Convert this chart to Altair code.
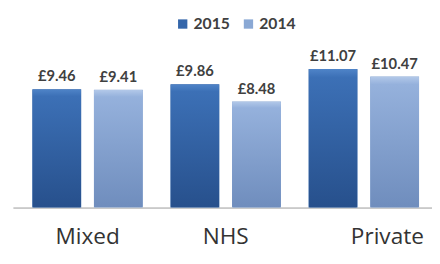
import altair as alt
import pandas as pd

categories = ["Mixed", "NHS", "Private"]
years = ["2015", "2014"]
values_2015 = [9.46, 9.86, 11.07]
values_2014 = [9.41, 8.48, 10.47]

rows = []
for i, c in enumerate(categories):
    rows.append({"Category": c, "Year": "2015", "Value": values_2015[i]})
    rows.append({"Category": c, "Year": "2014", "Value": values_2014[i]})
df = pd.DataFrame(rows)

grad_dark = {
    "gradient": "linear", "x1": 0, "y1": 0, "x2": 0, "y2": 1,
    "stops": [
        {"offset": 0, "color": "#4f84c8"},
        {"offset": 0.06, "color": "#3c70b6"},
        {"offset": 1, "color": "#27508c"},
    ],
}
grad_light = {
    "gradient": "linear", "x1": 0, "y1": 0, "x2": 0, "y2": 1,
    "stops": [
        {"offset": 0, "color": "#b3c9e9"},
        {"offset": 0.06, "color": "#95b1dc"},
        {"offset": 1, "color": "#6f8dbd"},
    ],
}

base = alt.Chart(df).encode(
    x=alt.X(
        "Category:N",
        sort=categories,
        scale=alt.Scale(paddingInner=0.2, paddingOuter=0.117, align=0.6),
        axis=alt.Axis(
            title=None,
            labelAngle=0,
            ticks=False,
            domainColor="#9a9a9a",
            domainWidth=1,
            labelFont="Open Sans",
            labelFontSize=23,
            labelColor="#333333",
            labelBaseline="alphabetic",
            labelPadding=37,
            labelOffset={"condition": {"test": "datum.value == 'Private'", "value": 24}, "value": 0},
        ),
    ),
    xOffset=alt.XOffset("Year:N", sort=years, scale=alt.Scale(paddingInner=0.206, paddingOuter=0)),
    y=alt.Y("Value:Q", scale=alt.Scale(domain=[0, 12], nice=False), axis=None),
)

bars_legend = base.mark_bar().encode(
    color=alt.Color(
        "Year:N",
        scale=alt.Scale(domain=years, range=["#3466aa", "#8aa8d4"]),
        legend=alt.Legend(
            title=None,
            orient="none",
            direction="horizontal",
            legendX=165,
            legendY=-42,
            symbolType="square",
            symbolSize=90,
            symbolStrokeWidth=0,
            labelFont="Lato",
            labelFontSize=16,
            labelFontWeight="bold",
            labelColor="#404040",
            columnPadding=10,
            symbolOffset=0,
            labelOffset=3,
        ),
    )
)

bars_grad = base.mark_bar(cornerRadius=1.5).encode(
    color=alt.condition(alt.datum.Year == "2015", alt.value(grad_dark), alt.value(grad_light))
)

labels = base.transform_calculate(
    Label="'£' + format(datum.Value, '.2f')"
).mark_text(
    baseline="alphabetic", dy=-8, font="Lato", fontSize=15, fontWeight="bold", color="#404040"
).encode(text="Label:N")

chart = alt.layer(bars_legend, bars_grad, labels).properties(
    width=427,
    height=153,
    autosize=alt.AutoSizeParams(type="none"),
    padding={"left": 5, "top": 48, "right": 0, "bottom": 46},
    background="white",
).configure_view(stroke=None)

chart.save("out.html", embed_options={"renderer": "svg", "actions": False})
